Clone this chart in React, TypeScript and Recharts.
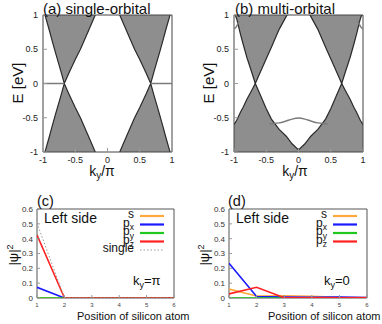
import React from 'react';
import { ComposedChart, Area, Line, XAxis, YAxis, ReferenceArea, Legend } from 'recharts';

// band structure: k grid (k_y/pi) and envelope energies (eV) of the band continua
const bandK = [-1, -0.96, -0.9, -0.86, -0.8, -0.72, -0.67, -0.6, -0.5, -0.42, -0.3, -0.19, -0.1, 0, 0.1, 0.19, 0.3, 0.42, 0.5, 0.6, 0.67, 0.72, 0.8, 0.86, 0.9, 0.96, 1];
const upperA = [1.1, 0.97, 0.77, 0.63, 0.43, 0.17, 0, 0.15, 0.35, 0.5, 0.76, 1.0, 1.12, 1.15, 1.12, 1.0, 0.76, 0.5, 0.35, 0.15, 0, 0.17, 0.43, 0.63, 0.77, 0.97, 1.1];
const lowerA = [-1.1, -0.97, -0.77, -0.63, -0.43, -0.17, 0, -0.15, -0.35, -0.5, -0.76, -1.0, -1.12, -1.15, -1.12, -1.0, -0.76, -0.5, -0.35, -0.15, 0, -0.17, -0.43, -0.63, -0.77, -0.97, -1.1];
const upperB = [1.05, 0.95, 0.72, 0.58, 0.38, 0.15, 0, 0.15, 0.36, 0.53, 0.79, 0.98, 1.12, 1.2, 1.12, 0.98, 0.79, 0.53, 0.36, 0.15, 0, 0.15, 0.38, 0.58, 0.72, 0.95, 1.05];
const lowerB = [-0.6, -0.54, -0.42, -0.35, -0.23, -0.09, 0, -0.15, -0.37, -0.52, -0.67, -0.77, -0.88, -0.97, -0.88, -0.77, -0.67, -0.52, -0.37, -0.15, 0, -0.09, -0.23, -0.35, -0.42, -0.54, -0.6];

// edge states
const edgeAKLeft = [-1, -0.67];
const edgeAKRight = [0.67, 1];
const edgeAE = [0, 0];
const edgeBK = [-0.45, -0.38, -0.3, -0.2, -0.1, 0, 0.1, 0.2, 0.3, 0.38, 0.45];
const edgeBE = [-0.59, -0.585, -0.575, -0.55, -0.52, -0.505, -0.52, -0.55, -0.575, -0.585, -0.59];
const cornerBKLeft = [-1, -0.98, -0.96, -0.94, -0.92];
const cornerBELeft = [0.8, 0.81, 0.835, 0.87, 0.91];
const cornerBKRight = [0.92, 0.94, 0.96, 0.98, 1];
const cornerBERight = [0.91, 0.87, 0.835, 0.81, 0.8];

const bandTicks = [-1, -0.5, 0, 0.5, 1];

// |psi|^2 on the left side
const sites = [1, 2, 3, 4, 5, 6];
const sC = [0, 0, 0, 0, 0, 0];
const pxC = [0.072, 0, 0, 0, 0, 0];
const pyC = [0, 0, 0, 0, 0, 0];
const pzC = [0.425, 0.002, 0, 0, 0, 0];
const singleC = [0.505, 0, 0, 0, 0, 0];
const sD = [0.06, 0.013, 0.015, 0.012, 0.005, 0.003];
const pxD = [0.234, 0.01, 0.006, 0.005, 0.006, 0.003];
const pyD = [0, 0, 0, 0, 0, 0];
const pzD = [0.028, 0.072, 0.002, 0.002, 0.002, 0.001];
const psiTicks = [0, 0.1, 0.2, 0.3, 0.4, 0.5, 0.6];

const FONT = '"Liberation Sans", Arial, Helvetica, sans-serif';
const ORANGE = '#ffa83c';
const BLUE = '#1a1aff';
const GREEN = '#1fc81f';
const RED = '#ff2020';

const pts = (xs: number[], ys: number[]) => xs.map((x, i) => ({ x, y: ys[i] }));

function BandPanel({ left, upper, lower, edges }: { left: number; upper: number[]; lower: number[]; edges: { x: number; y: number }[][] }) {
  const rows = bandK.map((k, i) => ({ x: k, up: [upper[i], 1.6], dn: [-1.6, lower[i]] }));
  return (
    <div style={{ position: 'absolute', left, top: 0 }}>
      <ComposedChart width={191} height={170} data={rows} margin={{ top: 15, right: 19, bottom: 0, left: 0 }}>
        <XAxis type="number" dataKey="x" domain={[-1, 1]} ticks={bandTicks} allowDataOverflow height={18}
          axisLine={false} tickSize={-4} tickMargin={9} tickLine={{ stroke: '#999' }}
          tick={{ fontSize: 9, fill: '#222', fontFamily: FONT }} />
        <YAxis type="number" domain={[-1, 1]} ticks={bandTicks} allowDataOverflow width={43}
          axisLine={false} tickSize={-4} tickMargin={9} tickLine={{ stroke: '#999' }}
          tick={{ fontSize: 9, fill: '#222', fontFamily: FONT }} />
        <Area dataKey="up" type="linear" fill="#8e8e8e" fillOpacity={1} stroke="#2a2a2a" strokeWidth={1.2} isAnimationActive={false} />
        <Area dataKey="dn" type="linear" fill="#8e8e8e" fillOpacity={1} stroke="#2a2a2a" strokeWidth={1.2} isAnimationActive={false} />
        {edges.map((e, i) => (
          <Line key={i} data={e} dataKey="y" type="monotone" stroke="#7a7a7a" strokeWidth={1.5} dot={false} isAnimationActive={false} />
        ))}
        <ReferenceArea x1={-1} x2={1} y1={-1} y2={1} fill="none" stroke="#444" strokeWidth={1} />
      </ComposedChart>
    </div>
  );
}

type Series = { name: string; sub?: string; color: string; values: number[]; dashed?: boolean };

function LegendBox({ items, x0 }: { items: Series[]; x0: number }) {
  return (
    <svg width={191} height={154} style={{ position: 'absolute', left: 0, top: 0 }}>
      {items.map((it, i) => {
        const y = 46 + i * 8.5;
        return (
          <g key={it.name + (it.sub || '')}>
            <text x={x0 - 6} y={y + 2} textAnchor="end" fontSize={12} fontFamily={FONT} fill="#111">
              {it.name}
              {it.sub ? <tspan fontSize={8.5} dy={3.5}>{it.sub}</tspan> : null}
            </text>
            <line x1={x0} x2={x0 + 24} y1={y} y2={y} stroke={it.color} strokeWidth={it.dashed ? 1 : 2.2}
              strokeDasharray={it.dashed ? '1.5 2' : undefined} />
          </g>
        );
      })}
    </svg>
  );
}

function PsiPanel({ left, width, series }: { left: number; width: number; series: Series[] }) {
  const rows = sites.map((s, i) => {
    const r: Record<string, number> = { x: s };
    series.forEach((se, j) => { r['v' + j] = se.values[i]; });
    return r;
  });
  const plotRight = left === 0 ? 174 : 367 - left;
  return (
    <div style={{ position: 'absolute', left, top: 170 }}>
      <ComposedChart width={width} height={154} data={rows} margin={{ top: 39, right: width - plotRight, bottom: 0, left: 0 }}>
        <XAxis type="number" dataKey="x" domain={[1, 6]} ticks={sites} allowDataOverflow height={26}
          axisLine={false} tickSize={-3} tickMargin={8} tickLine={{ stroke: '#999' }}
          tick={{ fontSize: 6, fill: '#444', fontFamily: FONT }} />
        <YAxis type="number" domain={[0, 0.6]} ticks={psiTicks} allowDataOverflow width={37}
          axisLine={false} tickSize={-3} tickMargin={7} tickLine={{ stroke: '#999' }}
          tick={{ fontSize: 8, fill: '#333', fontFamily: FONT }} />
        {series.map((se, j) => (
          <Line key={j} dataKey={'v' + j} type="linear" stroke={se.color} strokeWidth={se.dashed ? 1 : 1.6}
            strokeDasharray={se.dashed ? '1.5 2' : undefined} dot={false} isAnimationActive={false} />
        ))}
        <ReferenceArea x1={1} x2={6} y1={0} y2={0.6} fill="none" stroke="#555" strokeWidth={1} />
        <Legend layout="horizontal" verticalAlign="middle" align="center"
          wrapperStyle={{ left: 0, top: 0, width, height: 154 }}
          content={() => <LegendBox items={series} x0={plotRight - 34} />} />
      </ComposedChart>
    </div>
  );
}

const seriesC: Series[] = [
  { name: 's', color: ORANGE, values: sC },
  { name: 'p', sub: 'x', color: BLUE, values: pxC },
  { name: 'p', sub: 'y', color: GREEN, values: pyC },
  { name: 'p', sub: 'z', color: RED, values: pzC },
  { name: 'single', color: '#999', values: singleC, dashed: true },
];
const seriesD: Series[] = [
  { name: 's', color: ORANGE, values: sD },
  { name: 'p', sub: 'x', color: BLUE, values: pxD },
  { name: 'p', sub: 'y', color: GREEN, values: pyD },
  { name: 'p', sub: 'z', color: RED, values: pzD },
];

export default function App() {
  return (
    <div style={{ position: 'absolute', left: 0, top: 0, width: 382, height: 324, background: '#fff', overflow: 'hidden', fontFamily: FONT }}>
      <BandPanel left={0} upper={upperA} lower={lowerA}
        edges={[pts(edgeAKLeft, edgeAE), pts(edgeAKRight, edgeAE)]} />
      <BandPanel left={191} upper={upperB} lower={lowerB}
        edges={[pts(edgeBK, edgeBE), pts(cornerBKLeft, cornerBELeft), pts(cornerBKRight, cornerBERight)]} />
      <PsiPanel left={0} width={191} series={seriesC} />
      <PsiPanel left={192} width={190} series={seriesD} />
      <svg width={382} height={324} style={{ position: 'absolute', left: 0, top: 0, pointerEvents: 'none' }} fontFamily={FONT} fill="#111">
        <text x={43} y={14} fontSize={15}>(a) single-orbital</text>
        <text x={235} y={14} fontSize={15}>(b) multi-orbital</text>
        <text transform="translate(23,83) rotate(-90)" textAnchor="middle" fontSize={15}>E [eV]</text>
        <text transform="translate(214,83) rotate(-90)" textAnchor="middle" fontSize={15}>E [eV]</text>
        <text x={102} y={176} textAnchor="middle" fontSize={14}>k<tspan fontSize={10} dy={3}>y</tspan><tspan dy={-3}>/π</tspan></text>
        <text x={295} y={176} textAnchor="middle" fontSize={14}>k<tspan fontSize={10} dy={3}>y</tspan><tspan dy={-3}>/π</tspan></text>
        <text x={37} y={206} fontSize={14.5}>(c)</text>
        <text x={228} y={206} fontSize={14.5}>(d)</text>
        <text x={44} y={222.5} fontSize={14}>Left side</text>
        <text x={236} y={222.5} fontSize={14}>Left side</text>
        <text transform="translate(17.5,255) rotate(-90)" textAnchor="middle" fontSize={13}>|ψ|<tspan fontSize={9} dy={-5}>2</tspan></text>
        <text transform="translate(208.5,255) rotate(-90)" textAnchor="middle" fontSize={13}>|ψ|<tspan fontSize={9} dy={-5}>2</tspan></text>
        <text x={133} y={285} fontSize={13}>k<tspan fontSize={9} dy={3}>y</tspan><tspan dy={-3}>=π</tspan></text>
        <text x={324} y={285} fontSize={13}>k<tspan fontSize={9} dy={3}>y</tspan><tspan dy={-3}>=0</tspan></text>
        <text x={77} y={319.5} fontSize={11}>Position of silicon atom</text>
        <text x={268} y={319.5} fontSize={11}>Position of silicon atom</text>
      </svg>
    </div>
  );
}
